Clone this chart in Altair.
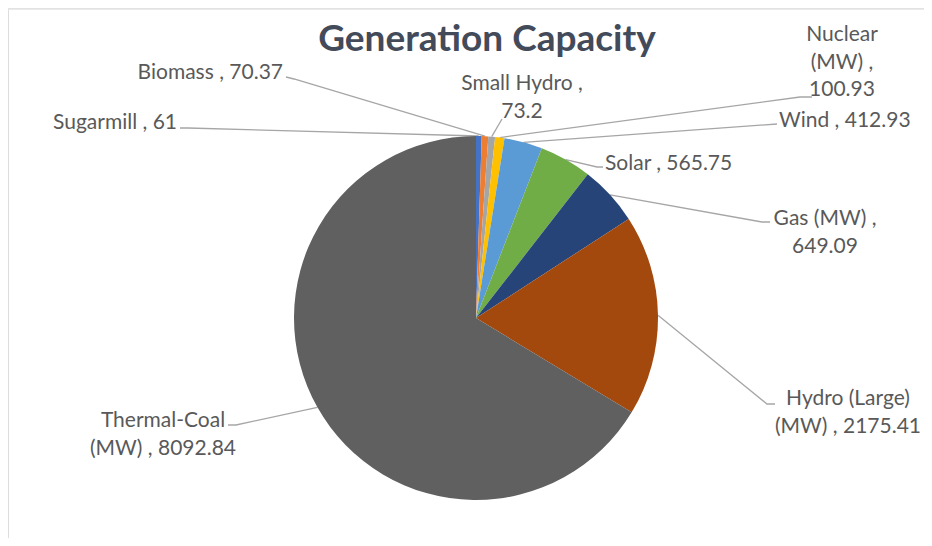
import altair as alt
import pandas as pd
import numpy as np

# ---- data ----
sources = ["Sugarmill", "Biomass", "Small Hydro", "Nuclear (MW)", "Wind",
           "Solar", "Gas (MW)", "Hydro (Large) (MW)", "Thermal-Coal (MW)"]
capacity = [61, 70.37, 73.2, 100.93, 412.93, 565.75, 649.09, 2175.41, 8092.84]
label_text = ["Sugarmill , 61", "Biomass , 70.37", "Small Hydro ,\n73.2",
              "Nuclear\n(MW) ,\n100.93", "Wind , 412.93", "Solar , 565.75",
              "Gas (MW) ,\n649.09", "Hydro (Large)\n(MW) , 2175.41",
              "Thermal-Coal\n(MW) , 8092.84"]
title_text = "Generation Capacity"

# ---- styles / layout (page pixels) ----
colors = ["#4472C4", "#ED7D31", "#A5A5A5", "#FFC000", "#5B9BD5",
          "#70AD47", "#264478", "#A4490E", "#606060"]
M = 8  # page margin
W, H = 916, 530
CX, CY, R = 476, 318, 182
# (x, y of first line centre)
label_xy = [(177, 123), (283, 73), (522, 84), (842, 35), (779, 121),
            (605, 164), (825, 219), (848, 399), (163, 421)]
label_align = ["right", "right", "center", "center", "left",
               "left", "center", "center", "center"]
leader_start = [(180, 128), (286, 77), (502, 119), (812, 97), (777, 124),
                (603, 167), (770, 222), (775, 404), (228, 425)]
leader_elbow = [(188, 128), (294, 79), (502, 119), (800, 97), (777, 124),
                (597, 167), (762, 222), (767, 404), (236, 425)]

# ---- derived tables ----
vals = np.array(capacity, dtype=float)
total = vals.sum()
cum_before = np.concatenate([[0], np.cumsum(vals)[:-1]])
mid_ang = (cum_before + vals / 2) / total * 2 * np.pi
pie_px = CX + R * np.sin(mid_ang)
pie_py = CY - R * np.cos(mid_ang)

pie_df = pd.DataFrame({"source": sources, "capacity": capacity,
                       "idx": list(range(len(sources)))})

lab_df = pd.DataFrame({
    "label": label_text,
    "x": [p[0] - M for p in label_xy],
    "y": [p[1] - M for p in label_xy],
    "align": label_align,
})

rows = []
for i in range(len(sources)):
    pts = [leader_start[i], leader_elbow[i], (pie_px[i], pie_py[i])]
    for k, (px, py) in enumerate(pts):
        rows.append({"src": sources[i], "k": k, "x": px - M, "y": py - M})
lead_df = pd.DataFrame(rows)

title_df = pd.DataFrame({"t": [title_text], "x": [487 - M], "y": [40 - M]})
border_df = pd.DataFrame({"x": [0], "x2": [W], "y": [9 - M]})

# ---- chart ----
pie = alt.Chart(pie_df).mark_arc(outerRadius=R).encode(
    theta=alt.Theta("capacity:Q", stack=True),
    order=alt.Order("idx:Q", sort="ascending"),
    color=alt.Color("source:N", scale=alt.Scale(domain=sources, range=colors), legend=None),
    x=alt.value(CX - M),
    y=alt.value(CY - M),
)

leaders = alt.Chart(lead_df).mark_line(color="#A6A6A6", strokeWidth=1.3).encode(
    x=alt.X("x:Q", scale=None),
    y=alt.Y("y:Q", scale=None),
    detail="src:N",
    order="k:Q",
)

text_layers = []
for al in ["left", "center", "right"]:
    text_layers.append(
        alt.Chart(lab_df).transform_filter(alt.datum.align == al).mark_text(
            align=al, baseline="middle", font="Lato", fontSize=21,
            color="#595959", lineBreak="\n", lineHeight=27.5,
        ).encode(x=alt.X("x:Q", scale=None), y=alt.Y("y:Q", scale=None), text="label:N")
    )

title = alt.Chart(title_df).mark_text(
    align="center", baseline="middle", font="Lato", fontSize=37,
    fontWeight="bold", color="#434B5A",
).encode(x=alt.X("x:Q", scale=None), y=alt.Y("y:Q", scale=None), text="t:N")

border = alt.Chart(border_df).mark_rule(color="#E3E3E3", strokeWidth=1.5).encode(
    x=alt.X("x:Q", scale=None), x2="x2:Q", y=alt.Y("y:Q", scale=None),
)

chart = alt.layer(border, leaders, pie, *text_layers, title).properties(
    width=W, height=H,
    autosize=alt.AutoSizeParams(type="none"),
    padding=0,
).configure_view(stroke=None).configure(background="white")

chart.save("out.html", embed_options={"renderer": "svg", "actions": False})
